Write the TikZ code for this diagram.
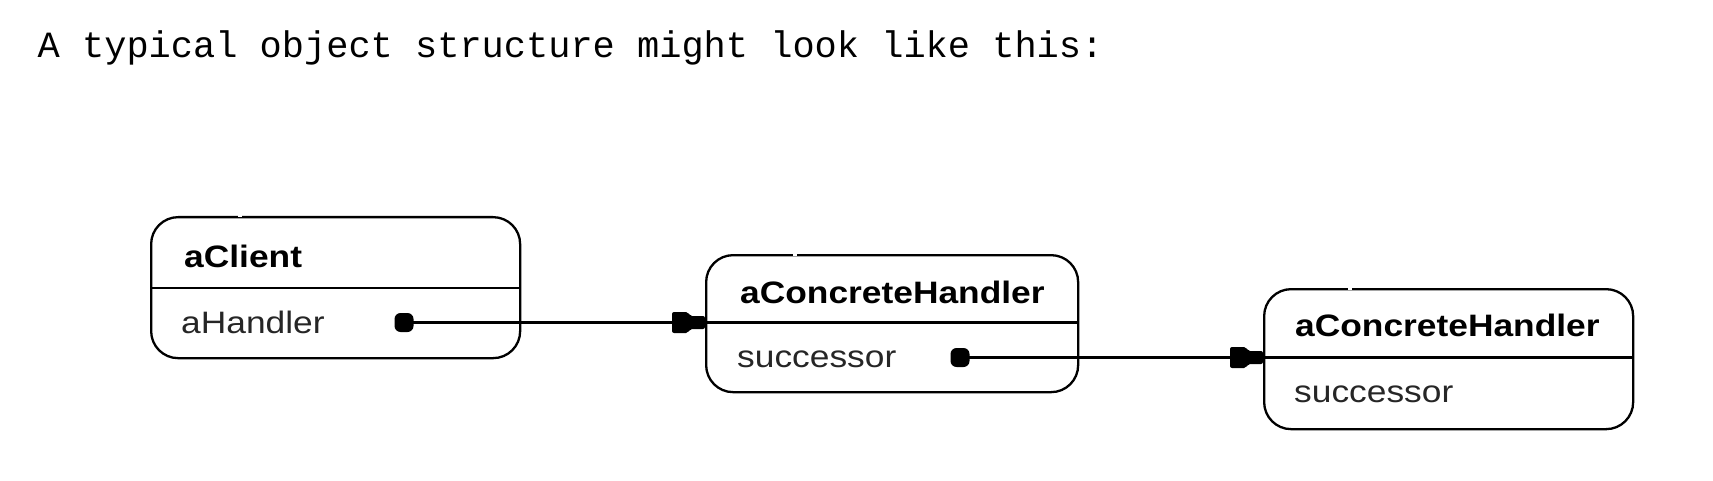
\documentclass[tikz,border=0pt]{standalone}
\usepackage{fontspec}
\newfontfamily\boxfont{Liberation Sans}[FakeStretch=1.14]
\newfontfamily\captionmono{Liberation Mono}
\begin{document}
\begin{tikzpicture}[x=1pt,y=-1pt,
  obj/.style={draw, line width=2.3pt, rounded corners=27pt, anchor=north west, inner sep=0pt},
  hdr/.style={anchor=base west, inner sep=0pt, font=\boxfont\fontsize{31}{36}\selectfont\bfseries},
  attr/.style={anchor=base west, inner sep=0pt, font=\boxfont\fontsize{31}{36}\selectfont, text=black!85},
  dotnode/.style={fill, rounded corners=6pt, minimum width=19pt, minimum height=19pt, inner sep=0pt},
  link/.style={line width=2.3pt},
  gapline/.style={white, line width=3pt}]
\useasboundingbox (0,0) rectangle (1713,481);

% caption
\node[anchor=base west, inner sep=0pt, font=\captionmono\fontsize{37}{44}\selectfont] (cap) at (37.5,58) {A typical object structure might look like this:};

% box 1: aClient
\node[obj, minimum width=369pt, minimum height=141pt] (b1) at (150,216) {};
\coordinate (d1) at (150,288);
\draw[link] (d1) -- (d1 -| b1.east);
\draw[gapline] (238,216) -- (242,216);
\node[hdr] (h1) at (184,267) {aClient};
\node[attr] (a1) at (181,333) {aHandler};
\node[dotnode] (p1) at (404,322.5) {};

% box 2: aConcreteHandler
\node[obj, minimum width=372pt, minimum height=137pt] (b2) at (705,254) {};
\coordinate (d2) at (705,322.5);
\draw[link] (d2) -- (d2 -| b2.east);
\draw[gapline] (793,254) -- (797,254);
\node[hdr] (h2) at (740,303) {aConcreteHandler};
\node[attr] (a2) at (737,367) {successor};
\node[dotnode] (p2) at (960,357.5) {};

% box 3: aConcreteHandler
\node[obj, minimum width=369pt, minimum height=140pt] (b3) at (1263,288) {};
\coordinate (d3) at (1263,357.5);
\draw[link] (d3) -- (d3 -| b3.east);
\draw[gapline] (1348,288) -- (1352,288);
\node[hdr] (h3) at (1295,336) {aConcreteHandler};
\node[attr] (a3) at (1294,402) {successor};

% connectors
\draw[link] (p1.center) -- (d2);
\fill[rounded corners=2pt] (d2) ++(-33,-10.5) -- ++(16,0) -- ++(2,4) -- ++(15,0) -- ++(0,13) -- ++(-15,0) -- ++(-2,4) -- ++(-16,0) -- cycle;

\draw[link] (p2.center) -- (d3);
\fill[rounded corners=2pt] (d3) ++(-33,-10.5) -- ++(16,0) -- ++(2,4) -- ++(15,0) -- ++(0,13) -- ++(-15,0) -- ++(-2,4) -- ++(-16,0) -- cycle;
\end{tikzpicture}
\end{document}
